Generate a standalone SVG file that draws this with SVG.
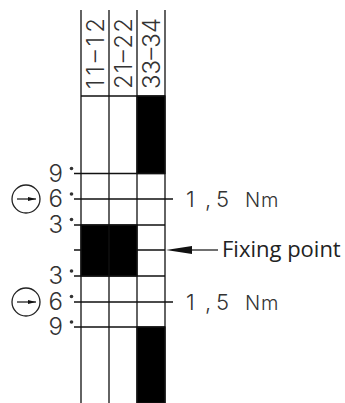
<svg xmlns="http://www.w3.org/2000/svg" width="345" height="403" viewBox="0 0 345 403">
<style>
.l{stroke:#111;stroke-width:1.3;fill:none}
.b{fill:#000;stroke:#111;stroke-width:1.3}
.t{font-family:"Inter","Liberation Sans",Arial,sans-serif;font-weight:300;fill:#333}
.h{font-size:24px}
.n{font-size:22px}
.u{font-size:20px}
.d{fill:#333;stroke:none}
.c{fill:none;stroke:#222;stroke-width:1.300}
</style>
<defs>
<marker id="a" markerUnits="userSpaceOnUse" markerWidth="8" markerHeight="6" refX="8" refY="3" orient="auto"><path d="M0 1L8 3L0 5Z" fill="#111"/></marker>
</defs>
<g id="blocks">
<rect class="b" x="137" y="96" width="28" height="77.5"/>
<rect class="b" x="81" y="225" width="56" height="51"/>
<rect class="b" x="137" y="327" width="28" height="76"/>
</g>
<g id="connectors">
<path class="l" d="M81 10V403M109 10V403M137 10V403M165 10V403"/>
<path class="l" d="M81 96H165M74 173.500H165M74 199H173M74 225H165M74 250H81M137 250H165M74 276H165M74 302H173M74 327H165"/>
<path d="M218 250H186" stroke="#111" stroke-width="1.200"/>
<path d="M166 250L192 246V254Z" fill="#111"/>
</g>
<g id="header-labels" class="t h">
<text transform="translate(103.500 89) rotate(-90)" textLength="71" lengthAdjust="spacing">11–12</text>
<text transform="translate(131.500 89) rotate(-90)" textLength="71" lengthAdjust="spacing">21–22</text>
<text transform="translate(160 89) rotate(-90)" textLength="71" lengthAdjust="spacing">33–34</text>
</g>
<g id="scale-labels" class="t h">
<text x="48.500" y="181.500">9</text>
<text x="48.500" y="207">6</text>
<text x="48.500" y="232.500">3</text>
<text x="48.500" y="284">3</text>
<text x="48.500" y="309.500">6</text>
<text x="48.500" y="335">9</text>
</g>
<g id="degree-marks">
<circle class="d" cx="71.500" cy="168.500" r="1.800"/>
<circle class="d" cx="71.500" cy="194" r="1.800"/>
<circle class="d" cx="71.500" cy="219.500" r="1.800"/>
<circle class="d" cx="71.500" cy="271" r="1.800"/>
<circle class="d" cx="71.500" cy="296.500" r="1.800"/>
<circle class="d" cx="71.500" cy="322" r="1.800"/>
</g>
<g id="direction-top">
<circle class="c" cx="26" cy="199" r="14"/>
<path d="M17 199H36" stroke="#111" stroke-width="1.200" marker-end="url(#a)"/>
</g>
<g id="direction-bottom">
<circle class="c" cx="26" cy="302" r="14"/>
<path d="M17 302H36" stroke="#111" stroke-width="1.200" marker-end="url(#a)"/>
</g>
<g id="torque-top"><text class="t n" x="186 205 216 235 245 261" y="207">1,5 <tspan class="u">Nm</tspan></text></g>
<g id="torque-bottom"><text class="t n" x="186 205 216 235 245 261" y="310">1,5 <tspan class="u">Nm</tspan></text></g>
<g id="fixing-point"><text x="222" y="257" font-family="'Open Sans','Noto Sans',sans-serif" font-size="22" fill="#222">Fixing point</text></g>
</svg>
